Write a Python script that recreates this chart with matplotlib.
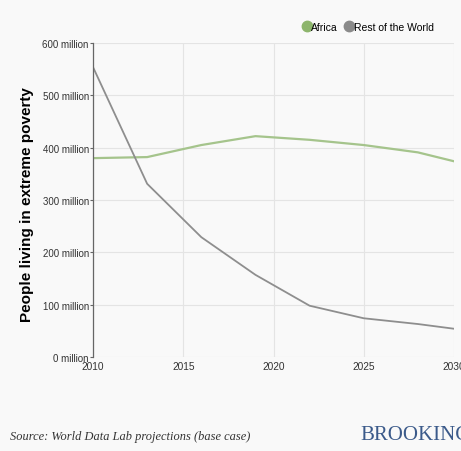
import matplotlib
matplotlib.use('Agg')
import matplotlib.pyplot as plt
from matplotlib.lines import Line2D

# data
years = [2010, 2013, 2016, 2019, 2022, 2025, 2028, 2030]
africa = [380, 382, 405, 422, 415, 405, 391, 374]
rest_of_world = [554, 331, 229, 157, 98, 74, 63, 54]
y_ticks = [0, 100, 200, 300, 400, 500, 600]
x_ticks = [2010, 2015, 2020, 2025, 2030]

BG = '#f9f9f9'
GREEN = '#a5c48c'
GRAY = '#8e8e8e'
SANS = ['Liberation Sans', 'DejaVu Sans']
SERIF = ['Liberation Serif', 'DejaVu Serif']

fig = plt.figure(figsize=(4.61, 4.52), dpi=100, facecolor=BG)
ax = fig.add_axes([93 / 461, 1 - 358 / 452, (454 - 93) / 461, (358 - 44) / 452])
ax.set_facecolor(BG)

ax.plot(years, africa, color=GREEN, lw=1.6, solid_joinstyle='round')
ax.plot(years, rest_of_world, color=GRAY, lw=1.3, solid_joinstyle='round')

ax.set_xlim(2010, 2030)
ax.set_ylim(0, 600)
ax.set_yticks(y_ticks)
ax.set_yticklabels([f'{v} million' for v in y_ticks], fontfamily=SANS, fontsize=7, color='#333333')
ax.set_xticks(x_ticks)
ax.set_xticklabels([str(v) for v in x_ticks], fontfamily=SANS, fontsize=7.3, color='#333333')
ax.tick_params(axis='y', length=2, width=0.8, color='#666666', pad=1)
ax.tick_params(axis='x', length=0, pad=3)
ax.grid(True, color='#e4e4e4', lw=0.8)
ax.set_axisbelow(True)
for s in ['top', 'right', 'bottom']:
    ax.spines[s].set_visible(False)
ax.spines['left'].set_color('#666666')
ax.spines['left'].set_linewidth(0.9)

fig.text(27 / 461, 1 - 205 / 452, 'People living in extreme poverty', rotation=90,
         ha='center', va='center', fontsize=11, fontweight='bold',
         fontfamily=SANS, color='black')

handles = [Line2D([], [], ls='none', marker='o', ms=7.5, color='#8db56c'),
           Line2D([], [], ls='none', marker='o', ms=7.5, color='#8a8a8a')]
fig.legend(handles, ['Africa', 'Rest of the World'], loc='center right',
           bbox_to_anchor=(443 / 461, 1 - 28 / 452), ncol=2, frameon=False,
           handletextpad=-0.2, columnspacing=0.5, handlelength=1.2,
           prop={'family': SANS, 'size': 7.5})

fig.text(10 / 461, 1 - 437 / 452, 'Source: World Data Lab projections (base case)',
         fontsize=8.9, style='italic', fontfamily=SERIF,
         color='#333333', ha='left', va='center')
fig.text(360 / 461, 1 - 436 / 452, 'BROOKINGS', fontsize=15,
         fontfamily=SERIF, color='#3b5a8a', ha='left', va='center')

fig.savefig('out.png', dpi=100, facecolor=BG)
